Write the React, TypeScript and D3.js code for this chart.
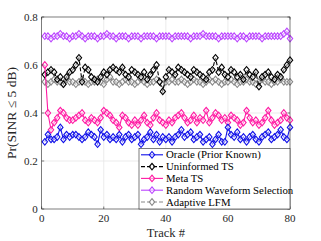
import React from "react";
import * as d3 from "d3";

// Pr(SINR <= 5 dB) per track
const tracks = d3.range(1, 81);

const oracle = [
  0.28, 0.31, 0.29, 0.29, 0.30, 0.34, 0.29, 0.31, 0.30, 0.31,
  0.31, 0.30, 0.29, 0.30, 0.32, 0.31, 0.30, 0.27, 0.33, 0.30,
  0.31, 0.29, 0.30, 0.29, 0.31, 0.28, 0.30, 0.31, 0.29, 0.30,
  0.31, 0.27, 0.29, 0.30, 0.32, 0.29, 0.31, 0.28, 0.30, 0.29,
  0.30, 0.28, 0.30, 0.31, 0.33, 0.30, 0.31, 0.32, 0.29, 0.30,
  0.31, 0.28, 0.29, 0.30, 0.27, 0.29, 0.31, 0.28, 0.28, 0.34,
  0.31, 0.30, 0.32, 0.29, 0.30, 0.28, 0.30, 0.31, 0.29, 0.28,
  0.30, 0.31, 0.32, 0.29, 0.30, 0.31, 0.33, 0.30, 0.29, 0.34,
];

const uninformed = [
  0.56, 0.57, 0.58, 0.57, 0.54, 0.55, 0.52, 0.55, 0.57, 0.58,
  0.60, 0.63, 0.53, 0.59, 0.58, 0.55, 0.54, 0.53, 0.55, 0.57,
  0.56, 0.58, 0.59, 0.58, 0.57, 0.59, 0.56, 0.55, 0.58, 0.57,
  0.56, 0.55, 0.57, 0.54, 0.56, 0.58, 0.60, 0.53, 0.49, 0.55,
  0.58, 0.57, 0.56, 0.59, 0.58, 0.57, 0.56, 0.55, 0.58, 0.57,
  0.56, 0.55, 0.54, 0.57, 0.58, 0.63, 0.57, 0.59, 0.56, 0.55,
  0.58, 0.57, 0.55, 0.56, 0.54, 0.58, 0.56, 0.55, 0.57, 0.51,
  0.55, 0.56, 0.57, 0.55, 0.54, 0.56, 0.55, 0.58, 0.60, 0.62,
];

const metaTS = [
  0.60, 0.40, 0.33, 0.36, 0.38, 0.41, 0.40, 0.38, 0.37, 0.37,
  0.38, 0.39, 0.40, 0.37, 0.36, 0.38, 0.37, 0.36, 0.38, 0.41,
  0.40, 0.39, 0.37, 0.36, 0.34, 0.39, 0.38, 0.36, 0.35, 0.37,
  0.35, 0.37, 0.39, 0.36, 0.35, 0.38, 0.40, 0.37, 0.36, 0.35,
  0.37, 0.36, 0.38, 0.39, 0.40, 0.38, 0.36, 0.37, 0.39, 0.36,
  0.38, 0.37, 0.41, 0.36, 0.38, 0.40, 0.39, 0.37, 0.38, 0.36,
  0.39, 0.38, 0.37, 0.35, 0.36, 0.41, 0.38, 0.36, 0.37, 0.35,
  0.36, 0.38, 0.41, 0.37, 0.35, 0.36, 0.37, 0.40, 0.38, 0.37,
];

const randomWaveform = [
  0.72, 0.72, 0.71, 0.72, 0.72, 0.73, 0.72, 0.72, 0.71, 0.72,
  0.72, 0.73, 0.72, 0.71, 0.72, 0.72, 0.72, 0.71, 0.72, 0.72,
  0.73, 0.72, 0.72, 0.71, 0.72, 0.72, 0.72, 0.71, 0.72, 0.72,
  0.72, 0.71, 0.72, 0.72, 0.72, 0.72, 0.71, 0.72, 0.72, 0.72,
  0.72, 0.71, 0.72, 0.72, 0.72, 0.72, 0.72, 0.71, 0.72, 0.72,
  0.72, 0.73, 0.72, 0.72, 0.72, 0.72, 0.71, 0.72, 0.72, 0.72,
  0.72, 0.72, 0.71, 0.72, 0.72, 0.71, 0.72, 0.72, 0.72, 0.72,
  0.71, 0.72, 0.72, 0.72, 0.72, 0.72, 0.72, 0.73, 0.74, 0.71,
];

const adaptiveLFM = [
  0.53, 0.52, 0.53, 0.54, 0.53, 0.53, 0.52, 0.54, 0.53, 0.53,
  0.52, 0.53, 0.54, 0.53, 0.52, 0.53, 0.53, 0.54, 0.53, 0.52,
  0.54, 0.55, 0.53, 0.53, 0.52, 0.53, 0.54, 0.53, 0.53, 0.52,
  0.53, 0.54, 0.53, 0.52, 0.53, 0.53, 0.54, 0.53, 0.52, 0.53,
  0.53, 0.54, 0.53, 0.53, 0.54, 0.53, 0.52, 0.53, 0.54, 0.53,
  0.53, 0.52, 0.53, 0.54, 0.53, 0.54, 0.53, 0.52, 0.53, 0.53,
  0.54, 0.53, 0.52, 0.53, 0.53, 0.54, 0.53, 0.53, 0.52, 0.53,
  0.54, 0.53, 0.53, 0.52, 0.53, 0.53, 0.54, 0.53, 0.53, 0.53,
];

const xTicks = [0, 20, 40, 60, 80];
const yTicks = [0, 0.2, 0.4, 0.6, 0.8];

const series = [
  { name: "Oracle (Prior Known)", values: oracle, color: "#1010e8", dash: null },
  { name: "Uninformed TS", values: uninformed, color: "#000000", dash: "4,2" },
  { name: "Meta TS", values: metaTS, color: "#ff1aa3", dash: null },
  { name: "Random Waveform Selection", values: randomWaveform, color: "#bb44ff", dash: null },
  { name: "Adaptive LFM", values: adaptiveLFM, color: "#888888", dash: "4,2" },
];

// draw gray/black behind the others, like the figure
const drawOrder = [4, 1, 3, 2, 0];

const W = 321;
const H = 241;
const margin = { top: 17, right: 31, bottom: 32, left: 41.7 };
const font = "'Liberation Serif', 'DejaVu Serif', 'Times New Roman', serif";

const diamond = "M0,-3.3L2.7,0L0,3.3L-2.7,0Z";

export default function App() {
  const x = d3.scaleLinear().domain([0, 80]).range([margin.left, W - margin.right]);
  const y = d3.scaleLinear().domain([0, 0.8]).range([H - margin.bottom, margin.top]);
  const line = d3
    .line<number>()
    .x((_, i) => x(tracks[i]))
    .y((d) => y(d));

  const [x0, x1] = x.range();
  const [y0, y1] = y.range();

  // legend box
  const lgLeft = 139;
  const lgRight = x1;
  const lgBottom = y0;
  const lgRow = 11.8;
  const lgTop = lgBottom - lgRow * 5 - 1.5;

  return (
    <svg
      width={W}
      height={H}
      style={{ position: "absolute", left: 0, top: 0, background: "#fff", fontFamily: font }}
    >
      <rect x={x0} y={y1} width={x1 - x0} height={y0 - y1} fill="#fff" />
      {/* grid */}
      {xTicks.slice(1, -1).map((t) => (
        <line key={"gx" + t} x1={x(t)} x2={x(t)} y1={y0} y2={y1} stroke="#e6e6e6" strokeWidth={0.8} />
      ))}
      {yTicks.slice(1, -1).map((t) => (
        <line key={"gy" + t} x1={x0} x2={x1} y1={y(t)} y2={y(t)} stroke="#e6e6e6" strokeWidth={0.8} />
      ))}

      {/* series */}
      {drawOrder.map((si) => {
        const s = series[si];
        return (
          <g key={s.name}>
            <path
              d={line(s.values) || ""}
              fill="none"
              stroke={s.color}
              strokeWidth={1.1}
              strokeDasharray={s.dash || undefined}
            />
            {s.values.map((v, i) => (
              <path
                key={i}
                d={diamond}
                transform={`translate(${x(tracks[i])},${y(v)})`}
                fill="#fff"
                fillOpacity={0.5}
                stroke={s.color}
                strokeWidth={1.1}
              />
            ))}
          </g>
        );
      })}

      {/* axes box */}
      <rect x={x0} y={y1} width={x1 - x0} height={y0 - y1} fill="none" stroke="#262626" strokeWidth={0.6} />
      {xTicks.map((t) => (
        <g key={"xt" + t}>
          <line x1={x(t)} x2={x(t)} y1={y0} y2={y0 - 2.5} stroke="#262626" strokeWidth={0.6} />
          <line x1={x(t)} x2={x(t)} y1={y1} y2={y1 + 2.5} stroke="#262626" strokeWidth={0.6} />
          <text x={x(t)} y={y0 + 13} textAnchor="middle" fontSize={11} fill="#262626" style={{ fontFamily: font }}>
            {t}
          </text>
        </g>
      ))}
      {yTicks.map((t) => (
        <g key={"yt" + t}>
          <line x1={x0} x2={x0 + 2.5} y1={y(t)} y2={y(t)} stroke="#262626" strokeWidth={0.6} />
          <line x1={x1} x2={x1 - 2.5} y1={y(t)} y2={y(t)} stroke="#262626" strokeWidth={0.6} />
          <text x={x0 - 4} y={y(t) + 3.8} textAnchor="end" fontSize={11} fill="#262626" style={{ fontFamily: font }}>
            {t === 0 ? "0" : d3.format(".1f")(t)}
          </text>
        </g>
      ))}

      {/* axis titles */}
      <text x={(x0 + x1) / 2} y={H - 4.5} textAnchor="middle" fontSize={12.5} fill="#262626" style={{ fontFamily: font }}>
        Track #
      </text>
      <text
        transform={`translate(16,${(y0 + y1) / 2}) rotate(-90)`}
        textAnchor="middle"
        fontSize={13.5}
        fill="#262626"
        style={{ fontFamily: font }}
      >
        Pr(SINR ≤ 5 dB)
      </text>

      {/* legend */}
      <rect
        x={lgLeft}
        y={lgTop}
        width={lgRight - lgLeft}
        height={lgBottom - lgTop}
        fill="#fff"
        stroke="#262626"
        strokeWidth={0.6}
      />
      {series.map((s, i) => {
        const cy = lgTop + 6.3 + i * lgRow;
        return (
          <g key={"lg" + s.name}>
            <line
              x1={lgLeft + 2}
              x2={lgLeft + 24}
              y1={cy}
              y2={cy}
              stroke={s.color}
              strokeWidth={1.1}
              strokeDasharray={s.dash || undefined}
            />
            <path
              d={diamond}
              transform={`translate(${lgLeft + 13},${cy})`}
              fill="#fff"
              fillOpacity={0.5}
              stroke={s.color}
              strokeWidth={1.1}
            />
            <text x={lgLeft + 27} y={cy + 3.5} fontSize={10.8} fill="#000" style={{ fontFamily: font }}>
              {s.name}
            </text>
          </g>
        );
      })}
    </svg>
  );
}
